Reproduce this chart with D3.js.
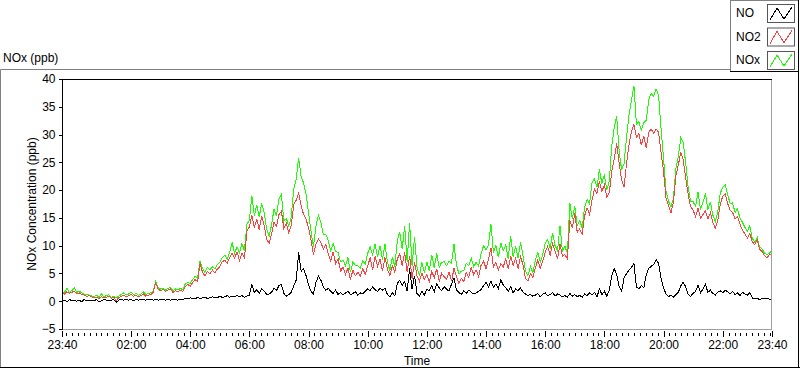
<!DOCTYPE html>
<html>
<head>
<meta charset="utf-8">
<script src="https://cdn.jsdelivr.net/npm/d3@7"></script>
<style>
  body { margin: 0; background: #fff; }
  svg text { font-family: "Liberation Sans", Arial, sans-serif; font-size: 12px; fill: #000; }
</style>
</head>
<body>
<div class="chart"></div>
<script>
// 5-minute samples, 23:40 -> 23:40 next day
const seriesNames = ["NO", "NO2", "NOx"];
const seriesColors = ["#000000", "#ff4040", "#1aff00"];
const tickLabels = ["23:40", "02:00", "04:00", "06:00", "08:00", "10:00", "12:00",
  "14:00", "16:00", "18:00", "20:00", "22:00", "23:40"];
const yTicks = [-5, 0, 5, 10, 15, 20, 25, 30, 35, 40];

const no = [
0.1, 0.2, -0.1, 0.3, 0.1, 0.2, 0.0, 0.2, -0.1, 0.3, 0.1, 0.2,
0.2, 0.1, 0.3, -0.1, 0.1, 0.3, 0.2, 0.1, 0.2, 0.3, -0.2, 0.2,
0.3, 0.2, 0.4, 0.2, 0.3, 0.1, 0.3, 0.2, 0.4, 0.3, 0.2, 0.3,
0.3, 0.2, 0.3, 0.2, 0.3, 0.4, 0.2, 0.3, 0.2, 0.3, 0.3, 0.2,
0.4, 0.3, 0.5, 0.4, 0.6, 0.5, 0.4, 0.7, 0.5, 0.6, 0.7, 0.5,
0.6, 0.8, 0.7, 0.6, 0.9, 0.7, 0.8, 1.0, 0.7, 0.9, 0.8, 1.0,
0.8, 1.0, 0.7, 0.9, 1.1, 3.0, 1.6, 2.1, 1.4, 2.2, 1.8, 1.3,
1.3, 1.6, 2.4, 1.9, 2.8, 3.0, 1.4, 0.9, 1.2, 1.6, 2.8, 3.8,
8.8, 5.4, 5.9, 4.6, 3.0, 1.8, 1.3, 3.4, 4.5, 3.8, 2.6, 2.0,
2.3, 1.8, 1.4, 2.0, 1.2, 1.6, 1.1, 1.5, 1.8, 1.2, 1.4, 1.7,
1.1, 1.5, 1.3, 1.8, 2.2, 1.9, 2.6, 2.1, 1.7, 2.4, 2.0, 2.3,
1.2, 0.8, 1.5, 1.0, 3.2, 3.8, 2.9, 3.5, 1.8, 5.9, 2.2, 4.6,
1.4, 0.9, 1.8, 1.1, 2.2, 1.9, 2.8, 1.7, 3.1, 2.4, 1.9, 2.6,
2.2, 1.8, 3.1, 4.2, 2.0, 1.6, 1.2, 1.9, 1.4, 2.0, 1.6, 1.3,
1.5, 1.8, 2.1, 2.8, 3.4, 2.6, 3.6, 2.5, 3.1, 2.3, 3.8, 2.9,
2.4, 1.8, 2.6, 1.5, 2.2, 1.9, 2.4, 1.6, 1.3, 1.0, 1.2, 0.9,
1.1, 1.4, 0.8, 1.3, 1.5, 1.0, 1.2, 1.6, 0.9, 1.3, 1.1, 0.8,
1.0, 0.7, 1.4, 0.9, 1.2, 0.8, 1.1, 0.7, 1.3, 1.0, 1.5, 1.1,
1.6, 0.8, 2.2, 1.2, 1.8, 0.9, 2.0, 4.6, 5.8, 4.9, 2.6, 1.8,
4.2, 5.0, 5.6, 6.1, 6.8, 2.6, 2.2, 2.8, 2.4, 4.8, 5.9, 6.3,
6.6, 7.5, 6.8, 4.2, 2.4, 1.3, 0.8, 1.1, 0.7, 1.2, 1.6, 2.8,
3.4, 2.6, 1.2, 0.9, 1.4, 1.8, 2.9, 1.5, 2.2, 3.0, 1.6, 2.0,
1.4, 1.1, 1.6, 1.9, 1.5, 2.0, 1.7, 1.3, 1.8, 1.2, 1.5, 1.0,
1.6, 1.3, 1.1, 1.5, 0.6, 0.4, 0.5, 0.3, 0.5, 0.4, 0.6, 0.3,
0.4];

const no2 = [
1.5, 1.3, 1.7, 1.4, 1.6, 1.8, 1.3, 1.5, 1.2, 1.1, 0.9, 1.0,
0.8, 0.6, 0.7, 0.5, 0.8, 0.6, 0.7, 0.9, 0.5, 0.7, 0.1, 0.6,
0.9, 1.1, 0.8, 1.0, 1.2, 0.9, 1.1, 0.8, 1.0, 1.3, 0.9, 1.1,
1.2, 1.6, 3.3, 2.2, 1.9, 2.1, 1.8, 2.0, 2.2, 1.6, 1.9, 1.7,
2.0, 1.7, 2.6, 3.0, 2.7, 3.4, 3.9, 3.5, 6.8, 5.2, 4.6, 5.4,
4.9, 5.6, 5.1, 5.8, 6.2, 7.1, 7.4, 6.8, 7.9, 8.6, 7.7, 8.9,
7.3, 8.6, 7.8, 12.6, 13.4, 15.5, 13.2, 14.8, 12.9, 15.3, 13.6, 11.2,
10.4, 12.1, 14.2, 13.5, 15.6, 16.2, 13.1, 14.0, 12.3, 13.6, 17.4, 18.2,
19.4, 17.2, 15.6, 14.8, 13.2, 11.0, 8.4, 10.3, 11.2, 10.6, 9.4, 10.2,
8.6, 7.2, 8.9, 6.8, 7.6, 5.4, 6.2, 4.8, 6.0, 3.9, 5.6, 4.6,
5.2, 4.5, 5.9, 4.8, 6.4, 7.8, 5.6, 8.1, 6.3, 7.5, 5.4, 7.9,
5.8, 4.6, 6.4, 5.2, 7.6, 8.5, 6.4, 8.8, 5.2, 8.2, 4.1, 7.0,
4.6, 3.6, 5.1, 3.9, 4.8, 3.5, 5.4, 4.2, 5.8, 3.6, 5.0, 4.4,
4.0, 5.3, 3.6, 5.9, 4.5, 3.2, 4.1, 3.5, 5.2, 4.3, 6.1, 4.8,
5.6, 4.4, 6.5, 7.2, 5.9, 7.5, 9.6, 6.1, 7.0, 5.6, 6.8, 6.2,
7.6, 5.8, 8.1, 6.4, 7.7, 5.9, 8.0, 6.6, 4.1, 3.6, 5.0, 4.2,
6.0, 7.4, 5.9, 7.2, 8.8, 9.9, 8.2, 10.4, 9.0, 7.6, 10.3, 8.1,
8.4, 7.6, 14.6, 13.2, 15.8, 12.4, 13.0, 12.1, 15.4, 16.8, 15.6, 18.2,
20.2, 19.4, 21.6, 19.8, 20.9, 18.8, 19.5, 23.4, 25.6, 28.4, 24.8, 21.9,
20.6, 24.8, 28.2, 30.6, 31.8, 29.5, 30.2, 28.1, 29.8, 27.6, 30.4, 31.0,
30.2, 31.0, 30.4, 26.8, 23.4, 18.6, 17.2, 15.9, 17.8, 22.6, 24.5, 26.8,
25.4, 22.1, 19.2, 17.0, 16.4, 15.2, 16.8, 14.9, 15.6, 16.3, 14.8, 15.9,
14.2, 13.1, 14.6, 17.4, 18.9, 19.3, 17.6, 16.4, 16.0, 14.8, 15.2, 13.9,
12.8, 12.1, 11.4, 12.2, 10.7, 10.2, 11.0, 9.4, 8.9, 8.2, 7.8, 8.4,
8.6];

const nox = [
1.7, 1.6, 2.3, 1.6, 1.9, 2.4, 1.6, 1.8, 1.5, 1.3, 1.2, 1.1,
1.0, 0.8, 1.1, 0.7, 1.3, 0.8, 1.0, 1.2, 0.7, 0.9, 0.6, 0.9,
1.2, 1.5, 1.1, 1.3, 1.6, 1.2, 1.4, 1.1, 1.3, 1.7, 1.2, 1.4,
1.5, 1.9, 3.6, 2.4, 2.2, 2.4, 2.0, 2.3, 2.5, 1.9, 2.2, 2.0,
2.3, 2.1, 3.1, 3.4, 3.2, 3.9, 4.5, 4.1, 7.3, 5.9, 5.2, 6.1,
5.6, 6.2, 5.8, 6.6, 7.0, 7.8, 8.3, 7.6, 8.8, 10.6, 8.6, 9.8,
8.7, 10.4, 9.1, 13.8, 14.6, 19.0, 15.4, 17.3, 15.2, 17.6, 16.0, 13.0,
11.7, 13.7, 16.6, 15.4, 18.4, 19.2, 14.5, 14.9, 13.5, 15.2, 20.2, 22.0,
25.8, 22.4, 21.3, 19.2, 16.0, 12.6, 9.8, 13.5, 15.5, 14.2, 12.0, 12.1,
10.9, 9.1, 10.4, 8.9, 8.8, 7.1, 7.4, 6.4, 7.9, 5.2, 7.1, 6.4,
6.4, 6.0, 7.2, 6.7, 8.6, 9.8, 8.3, 10.3, 8.0, 10.0, 7.5, 10.3,
7.1, 5.5, 8.0, 6.2, 10.8, 12.5, 9.4, 13.5, 7.1, 14.1, 6.4, 11.6,
6.1, 4.6, 7.0, 5.1, 7.1, 5.5, 8.3, 6.0, 8.6, 6.1, 7.0, 7.1,
6.4, 7.2, 6.8, 10.3, 6.6, 4.9, 5.4, 5.5, 6.8, 6.4, 7.8, 6.2,
7.0, 6.3, 8.5, 10.0, 9.2, 10.2, 13.9, 8.7, 10.0, 7.9, 10.5, 9.1,
10.1, 7.6, 11.8, 8.0, 9.9, 7.8, 10.6, 8.2, 5.4, 4.6, 6.3, 5.1,
7.4, 8.8, 7.0, 8.4, 10.4, 11.1, 9.5, 12.3, 10.0, 9.1, 13.6, 9.0,
9.9, 8.6, 17.6, 14.8, 17.2, 13.6, 14.5, 13.2, 17.0, 18.3, 17.5, 21.4,
22.0, 20.5, 23.7, 21.2, 22.8, 20.0, 21.6, 28.0, 31.2, 33.3, 27.0, 23.6,
24.8, 29.6, 33.5, 36.2, 38.8, 31.9, 32.3, 30.8, 32.1, 32.6, 36.3, 37.4,
36.9, 38.2, 37.1, 31.0, 25.8, 19.9, 18.0, 17.0, 18.5, 23.8, 26.1, 29.4,
28.6, 24.8, 20.5, 18.0, 17.9, 17.1, 19.6, 16.5, 17.8, 19.4, 16.5, 17.9,
15.5, 14.3, 16.1, 19.4, 20.5, 21.0, 19.2, 17.6, 17.7, 16.0, 16.6, 15.0,
14.2, 13.3, 12.6, 13.6, 11.3, 10.6, 11.5, 9.7, 9.4, 8.6, 8.4, 8.7,
9.1];

const w = 800, h = 369,
  pLeft = 62, pRight = 772, pTop = 79, pBottom = 329,
  start = new Date(2020, 0, 1, 23, 40),
  end = new Date(2020, 0, 2, 23, 40);

const svg = d3.select(".chart").append("svg")
  .attr("width", w)
  .attr("height", h);

const xScale = d3.scaleTime().domain([start, end]).range([pLeft, pRight]);
const yScale = d3.scaleLinear().domain([-5, 40]).range([pBottom, pTop]);
const timeOf = (d, i) => d3.timeMinute.offset(start, 5 * i);

// outer panel frame
const frame = [[0.5, 69.5, 730, 69.5, "#808080"], [0.5, 69.5, 0.5, 368, "#808080"],
  [0, 367.5, 800, 367.5, "#000"], [798.5, 0, 798.5, 368, "#000"]];
svg.selectAll("line.frame").data(frame).enter().append("line")
  .attr("class", "frame")
  .attr("x1", d => d[0]).attr("y1", d => d[1])
  .attr("x2", d => d[2]).attr("y2", d => d[3])
  .attr("stroke", d => d[4]);

svg.append("text").attr("x", 3).attr("y", 62).text("NOx (ppb)");

// plot area
svg.append("rect")
  .attr("x", pLeft).attr("y", pTop)
  .attr("width", pRight - pLeft).attr("height", pBottom - pTop)
  .attr("fill", "#fff");

const yAxis = d3.axisLeft(yScale).tickValues(yTicks).tickSize(4).tickPadding(3);
svg.append("g")
  .attr("transform", "translate(" + (pLeft + 0.5) + ",0)")
  .call(yAxis)
  .call(g => g.select(".domain").remove())
  .call(g => g.selectAll("text").attr("font-size", 12).attr("font-family", null));

const majorTicks = tickLabels.map((t, i) => {
  if (i === 0) return start;
  if (i === tickLabels.length - 1) return end;
  return new Date(2020, 0, 2, +t.slice(0, 2), +t.slice(3));
});
const minorTicks = d3.timeMinute.every(12).range(start, end);

svg.append("g")
  .attr("transform", "translate(0,333)")
  .call(d3.axisBottom(xScale).tickValues(minorTicks).tickSize(3).tickFormat(""))
  .call(g => g.select(".domain").remove());
svg.append("g")
  .attr("transform", "translate(0,331)")
  .call(d3.axisBottom(xScale).tickValues(majorTicks).tickSize(6).tickPadding(3)
    .tickFormat((d, i) => tickLabels[i]))
  .call(g => g.select(".domain").remove())
  .call(g => g.selectAll("text").attr("font-size", 12).attr("font-family", null));
svg.selectAll(".tick line").attr("shape-rendering", "crispEdges");

// series lines, drawn aliased like the instrument panel
const lines = [nox, no2, no];
const colors = [seriesColors[2], seriesColors[1], seriesColors[0]];
const line = d3.line().x((d, i) => xScale(timeOf(d, i))).y(d => yScale(d));
svg.append("g").selectAll("path")
  .data(lines)
  .enter()
  .append("path")
  .attr("d", line)
  .attr("fill", "none")
  .attr("stroke", (d, i) => colors[i])
  .attr("stroke-width", 1)
  .attr("shape-rendering", "crispEdges");

// plot border: dark top/left, light bottom/right
svg.append("line").attr("x1", pLeft).attr("y1", pTop + 0.5).attr("x2", pRight).attr("y2", pTop + 0.5).attr("stroke", "#000");
svg.append("line").attr("x1", pLeft + 0.5).attr("y1", pTop).attr("x2", pLeft + 0.5).attr("y2", pBottom + 1).attr("stroke", "#000");
svg.append("line").attr("x1", pRight - 0.5).attr("y1", pTop + 1).attr("x2", pRight - 0.5).attr("y2", pBottom + 1).attr("stroke", "#a0a0a0");
svg.append("line").attr("x1", pLeft + 1).attr("y1", pBottom + 0.5).attr("x2", pRight).attr("y2", pBottom + 0.5).attr("stroke", "#a0a0a0");

svg.append("text")
  .attr("transform", "translate(36," + ((pTop + pBottom) / 2) + ") rotate(-90)")
  .attr("text-anchor", "middle")
  .text("NOx Concentration (ppb)");
svg.append("text")
  .attr("x", (pLeft + pRight) / 2).attr("y", 365)
  .attr("text-anchor", "middle")
  .text("Time");

// legend
const lg = svg.append("g");
lg.append("rect").attr("x", 730.5).attr("y", 0.5).attr("width", 68).attr("height", 71)
  .attr("fill", "#fff").attr("stroke", "#808080");
lg.append("line").attr("x1", 730).attr("y1", 71.5).attr("x2", 799).attr("y2", 71.5).attr("stroke", "#000");
lg.append("line").attr("x1", 798.5).attr("y1", 0).attr("x2", 798.5).attr("y2", 72).attr("stroke", "#000");
const item = lg.selectAll("g.item").data(seriesNames).enter().append("g")
  .attr("class", "item")
  .attr("transform", (d, i) => "translate(0," + (i * 23.5) + ")");
item.append("text").attr("x", 736).attr("y", 17).text(d => d);
item.append("rect").attr("x", 767.5).attr("y", 4.5).attr("width", 27).attr("height", 18)
  .attr("fill", "#fff").attr("stroke", "#555");
item.append("polyline")
  .attr("points", "770,20 777,8 784,19 792,7")
  .attr("fill", "none")
  .attr("stroke", (d, i) => seriesColors[i])
  .attr("shape-rendering", "crispEdges");
</script>
</body>
</html>
